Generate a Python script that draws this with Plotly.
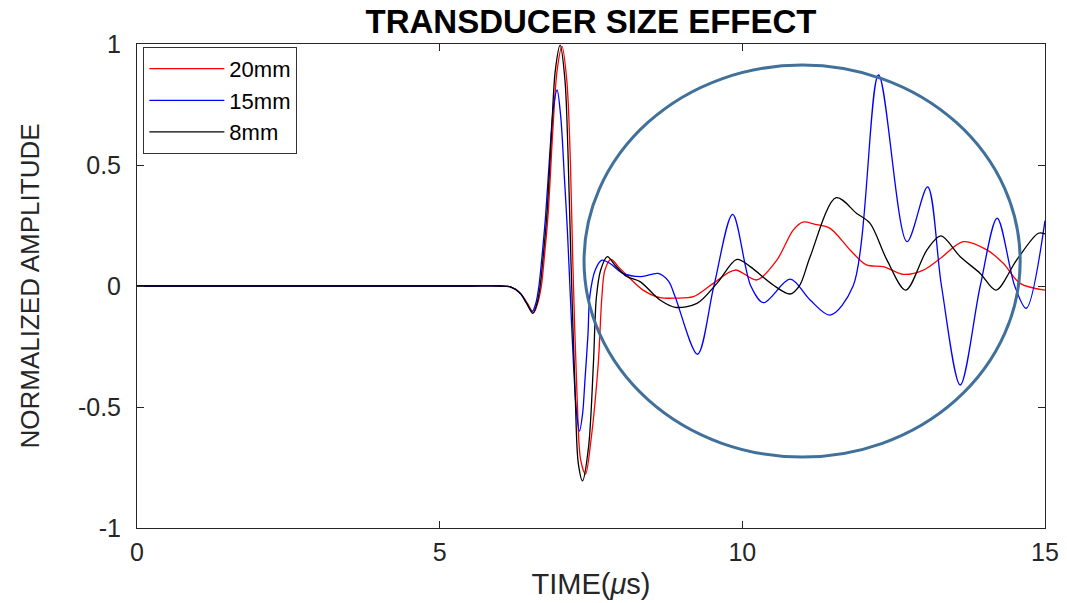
import plotly.graph_objects as go

# Time axis (microseconds) and normalized amplitude read for each transducer
t_20mm = [0, 2.0, 4.0, 5.5, 6.0, 6.16, 6.33, 6.45, 6.55, 6.62, 6.68, 6.73, 6.79, 6.87, 6.94, 7.02,
          7.10, 7.16, 7.20, 7.27, 7.33, 7.41, 7.50, 7.62, 7.68, 7.73, 7.83, 7.95, 8.09, 8.36,
          8.64, 8.90, 9.19, 9.52, 9.88, 10.24, 10.57, 10.84, 11.00, 11.20, 11.45, 11.78, 12.05,
          12.33, 12.66, 12.99, 13.27, 13.65, 14.04, 14.31, 14.59, 15.0]
a_20mm = [0, 0, 0, 0, 0, -0.003, -0.03, -0.072, -0.11, -0.07, 0.0, 0.121, 0.29, 0.645, 0.89, 0.99,
          0.85, 0.51, 0.094, -0.457, -0.72, -0.777, -0.636, -0.32, -0.044, 0.066, 0.110, 0.08,
          0.045, -0.017, -0.048, -0.05, -0.044, 0.011, 0.066, 0.025, 0.107, 0.231, 0.264, 0.255,
          0.238, 0.149, 0.087, 0.080, 0.048, 0.066, 0.114, 0.183, 0.149, 0.094, 0.011, -0.017]

t_15mm = [0, 2.0, 4.0, 5.5, 6.0, 6.16, 6.33, 6.43, 6.53, 6.59, 6.64, 6.69, 6.75, 6.82, 6.88, 6.94,
          7.00, 7.06, 7.11, 7.16, 7.21, 7.26, 7.31, 7.36, 7.40, 7.45, 7.48, 7.57, 7.68, 7.81,
          8.03, 8.33, 8.61, 8.78, 8.89, 9.26, 9.53, 9.84, 10.14, 10.35, 10.79, 11.12, 11.45,
          11.83, 12.25, 12.72, 13.06, 13.29, 13.60, 13.93, 14.21, 14.50, 14.69, 15.0]
a_15mm = [0, 0, 0, 0, 0, -0.003, -0.03, -0.07, -0.105, -0.07, 0.0, 0.121, 0.29, 0.55, 0.74, 0.81,
          0.70, 0.45, 0.23, -0.05, -0.32, -0.52, -0.60, -0.53, -0.39, -0.2, -0.044, 0.066, 0.107,
          0.094, 0.052, 0.039, 0.052, 0.02, -0.044, -0.282, 0.0, 0.296, 0.0, -0.069, 0.028,
          -0.058, -0.12, 0.0, 0.872, 0.183, 0.41, 0.0, -0.409, 0.0, 0.28, 0.0, -0.092, 0.27]

t_8mm = [0, 2.0, 4.0, 5.5, 6.0, 6.16, 6.33, 6.44, 6.54, 6.61, 6.66, 6.71, 6.77, 6.85, 6.91, 6.99,
         7.07, 7.12, 7.17, 7.24, 7.29, 7.36, 7.46, 7.54, 7.59, 7.66, 7.77, 7.90, 8.09, 8.31,
         8.64, 8.89, 9.25, 9.58, 9.91, 10.13, 10.51, 10.79, 10.95, 11.12, 11.55, 11.89, 12.11,
         12.39, 12.70, 13.05, 13.28, 13.60, 13.93, 14.19, 14.53, 14.89, 15.0]
a_8mm = [0, 0, 0, 0, 0, -0.003, -0.03, -0.072, -0.113, -0.07, 0.0, 0.121, 0.29, 0.645, 0.89, 0.995,
         0.85, 0.55, 0.094, -0.457, -0.733, -0.805, -0.664, -0.32, -0.044, 0.066, 0.121, 0.085,
         0.039, 0.018, -0.058, -0.088, -0.072, 0.011, 0.110, 0.080, 0.004, -0.033, 0.004, 0.121,
         0.365, 0.30, 0.259, 0.107, -0.017, 0.149, 0.207, 0.121, 0.052, -0.017, 0.107, 0.218, 0.215]

series = [
    ("20mm", t_20mm, a_20mm, "#ff0000"),
    ("15mm", t_15mm, a_15mm, "#0000ff"),
    ("8mm", t_8mm, a_8mm, "#000000"),
]

x_ticks = [0, 5, 10, 15]
y_ticks = [-1, -0.5, 0, 0.5, 1]

# Region of interest highlighted after the main pulse
roi_x = (7.385, 14.59)
roi_y = (-0.707, 0.913)

fig = go.Figure()
for name, t, a, color in series:
    fig.add_trace(go.Scatter(
        x=t, y=a, name=name, mode="lines",
        line=dict(color=color, width=1.3, shape="spline", smoothing=0.9),
    ))

fig.add_shape(
    type="circle", xref="x", yref="y",
    x0=roi_x[0], x1=roi_x[1], y0=roi_y[0], y1=roi_y[1],
    line=dict(color="#41709a", width=3),
)

font_main = "Liberation Sans, Arial, sans-serif"
axis_common = dict(
    showline=True, mirror="ticks", linecolor="#262626", linewidth=1,
    ticks="inside", ticklen=7, tickcolor="#262626", showgrid=False, zeroline=False,
    tickfont=dict(family=font_main, size=25, color="#262626"), automargin=False,
)

fig.update_layout(
    width=1067, height=603,
    margin=dict(l=137, r=22, t=44, b=75),
    paper_bgcolor="white", plot_bgcolor="white",
    title=dict(
        text="<b>TRANSDUCER SIZE EFFECT</b>",
        font=dict(family=font_main, size=33, color="black"),
        x=0.5, xref="paper", xanchor="center",
        y=0.965, yref="container", yanchor="middle",
    ),
    xaxis=dict(
        range=[0, 15], tickvals=x_ticks, ticklabelstandoff=2, **axis_common,
        title=dict(text="TIME(<i>μ</i>s)", standoff=8,
                   font=dict(family=font_main, size=29, color="#262626")),
    ),
    yaxis=dict(
        range=[-1, 1], tickvals=y_ticks, ticktext=["-1", "-0.5", "0", "0.5", "1"],
        ticklabelstandoff=10, **axis_common,
        title=dict(text="NORMALIZED AMPLITUDE", standoff=30,
                   font=dict(family=font_main, size=26, color="#262626")),
    ),
    legend=dict(
        x=0.007, y=0.994, xanchor="left", yanchor="top",
        bgcolor="white", bordercolor="#333333", borderwidth=1,
        font=dict(family=font_main, size=22, color="black"),
        tracegroupgap=0, itemwidth=75,
    ),
    showlegend=True,
)

fig.write_html("out.html")
